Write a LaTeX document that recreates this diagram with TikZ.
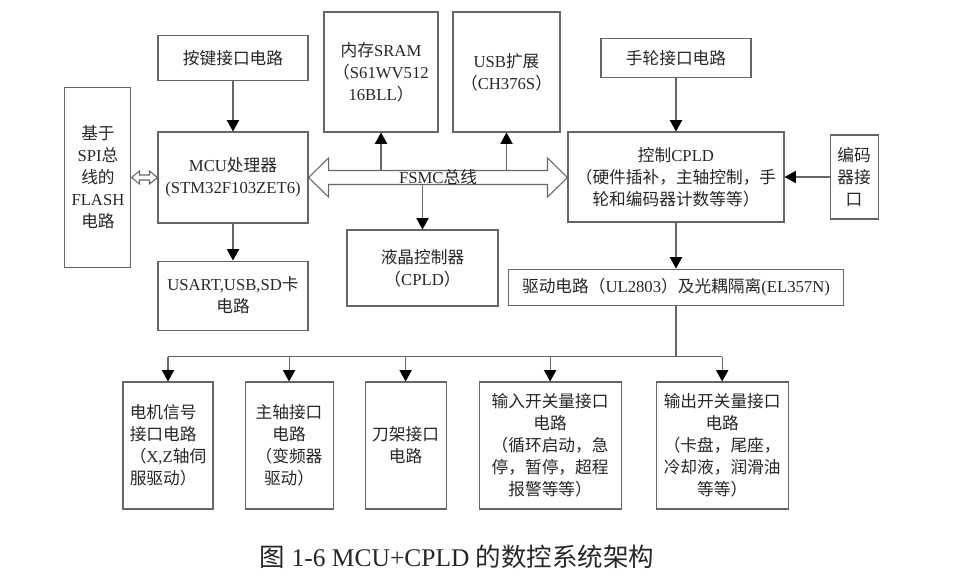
\documentclass[tikz,border=0pt]{standalone}
\usepackage{fontspec}
\setmainfont{Liberation Serif}
\newfontfamily\cjk{Noto Sans CJK SC}
\usepackage{tikz}
\usetikzlibrary{arrows.meta, positioning, calc}

% Chinese characters go to the CJK font
\XeTeXinterchartokenstate=1
\newXeTeXintercharclass\cjkcls
\newcount\cjkcnt
\cjkcnt="4E00
\loop
  \XeTeXcharclass\cjkcnt=\cjkcls
  \advance\cjkcnt by 1
\ifnum\cjkcnt<"A000 \repeat
\XeTeXcharclass"FF08=\cjkcls
\XeTeXcharclass"FF09=\cjkcls
\XeTeXcharclass"FF0C=\cjkcls
\XeTeXinterchartoks 0 \cjkcls={\cjk}
\XeTeXinterchartoks 4095 \cjkcls={\cjk}
\XeTeXinterchartoks \cjkcls 0={\rmfamily}
\XeTeXinterchartoks \cjkcls 4095={\rmfamily}

\begin{document}
\begin{tikzpicture}[
    x=0.02cm, y=-0.02cm,
    box/.style={draw=black!60, line width=0.6pt, inner sep=0pt, align=center, text=black!85, font=\fontsize{9.5}{12.5}\selectfont},
    wh/.style 2 args={minimum width=#1*0.02cm, minimum height=#2*0.02cm},
    arr/.style={draw=black!60, line width=0.6pt, -{Triangle[length=6.5pt, width=7pt, color=black]}},
    bus/.style={draw=black!60, line width=0.6pt, fill=white},
    link/.style={draw=black!60, line width=0.6pt}
]
\useasboundingbox (0,0) rectangle (961,587);

% MCU side
\node[box, wh={150}{91}] (mcu) at (233,177.5) {MCU处理器\\(STM32F103ZET6)};
\node[box, wh={150}{45}, above=1cm of mcu] (key) {按键接口电路};
\node[box, wh={150}{69}, below=0.74cm of mcu] (usart) {USART,USB,SD卡\\电路};
\node[box, wh={66}{180}, left=0.52cm of mcu] (flash) {基于\\SPI总\\线的\\FLASH\\电路};

% Bus devices
\node[box, wh={114}{120}] (sram) at (381,72) {内存SRAM\\（S61WV512\\16BLL）};
\node[box, wh={107}{120}] (usb) at (506.5,72) {USB扩展\\（CH376S）};
\node[box, wh={151}{76}] (lcd) at (422.5,268) {液晶控制器\\（CPLD）};

% CPLD side
\node[box, wh={216}{90}] (cpld) at (676,177) {控制CPLD\\（硬件插补，主轴控制，手\\轮和编码器计数等等）};
\node[box, wh={150}{39}, above=1.06cm of cpld] (hand) {手轮接口电路};
\node[box, wh={48}{84}, right=0.9cm of cpld] (enc) {编码\\器接\\口};
\node[box, wh={335}{36}, below=0.92cm of cpld] (drive) {驱动电路（UL2803）及光耦隔离(EL357N)};

% Interface circuits
\node[box, wh={90}{127}, align=left] (motor) at (168,445.5) {电机信号\\接口电路\\（X,Z轴伺\\服驱动）};
\node[box, wh={88}{127}, right=0.62cm of motor] (spindle) {主轴接口\\电路\\（变频器\\驱动）};
\node[box, wh={81}{127}, right=0.62cm of spindle] (tool) {刀架接口\\电路};
\node[box, wh={142}{127}, right=0.64cm of tool] (input) {输入开关量接口\\电路\\（循环启动，急\\停，暂停，超程\\报警等等）};
\node[box, wh={132}{127}, right=0.68cm of input] (output) {输出开关量接口\\电路\\（卡盘，尾座，\\冷却液，润滑油\\等等）};

% Caption
\node[text=black!85, font=\fontsize{14.5}{17}\selectfont] (caption) at (457,557) {图 1-6 MCU+CPLD 的数控系统架构};

% FSMC bus
\coordinate (busL) at (mcu.east);
\coordinate (busR) at (busL -| cpld.west);
\coordinate (bustop) at ($(busL)+(0,-7)$);
\coordinate (busbot) at ($(busL)+(0,7)$);
\draw[bus] (busL) -- ++(20,-19.5) -- ++(0,12.5) -- ($(busR)+(-20,-7)$) -- ++(0,-12.5) -- (busR)
    -- ++(-20,19.5) -- ++(0,-12.5) -- ($(busL)+(20,7)$) -- ++(0,12.5) -- cycle;
\node[text=black!85, inner sep=0pt, font=\fontsize{9.5}{12.5}\selectfont] (fsmc) at ($(busL)!0.5!(busR)$) {FSMC总线};

% SPI link
\coordinate (spiL) at (flash.east);
\coordinate (spiR) at (spiL -| mcu.west);
\draw[bus] (spiL) -- ++(8,-6.5) -- ++(0,4) -- ($(spiR)+(-8,-2.5)$) -- ++(0,-4) -- (spiR)
    -- ++(-8,6.5) -- ++(0,-4) -- ($(spiL)+(8,2.5)$) -- ++(0,4) -- cycle;

% Arrows
\draw[arr] (key) -- (mcu);
\draw[arr] (mcu) -- (usart);
\draw[arr] (bustop -| sram.south) -- (sram.south);
\draw[arr] (bustop -| usb.south) -- (usb.south);
\draw[arr] (busbot -| lcd.north) -- (lcd.north);
\draw[arr] (hand) -- (cpld);
\draw[arr] (enc) -- (cpld);
\draw[arr] (cpld) -- (drive);

% Distribution to the interface circuits
\coordinate (split) at ($(drive.south)+(0,51)$);
\draw[link] (drive.south) -- (split);
\draw[link] (motor.north |- split) -- (output.north |- split);
\foreach \b in {motor, spindle, tool, input, output}
    \draw[arr] (\b.north |- split) -- (\b.north);

\end{tikzpicture}
\end{document}
